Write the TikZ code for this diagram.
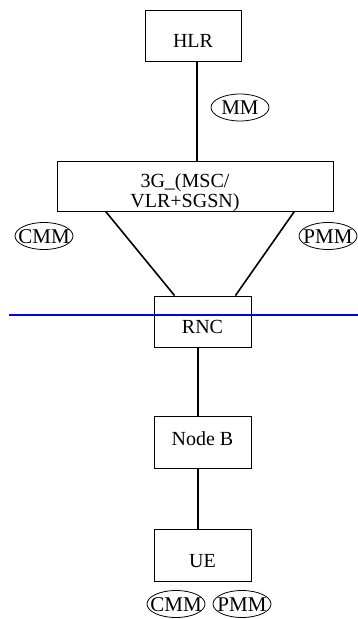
\documentclass[tikz,border=0pt]{standalone}
\usepackage{fontspec}
\setmainfont{Liberation Serif}

\begin{document}
\begin{tikzpicture}[x=1pt, y=-1pt,
    font=\fontsize{20pt}{20.5pt}\selectfont,
    box/.style={draw, line width=0.8pt, inner sep=0pt, minimum width=97pt, minimum height=51pt, text height=24pt, text depth=0pt},
    link/.style={line width=1.6pt},
    tag/.style={inner sep=0pt, text height=14pt, text depth=0pt, font=\fontsize{21pt}{22pt}\selectfont}]

    % constants
    \def\rx{29}
    \def\ry{13.5}

    \useasboundingbox (0,0) rectangle (358,619);

    % core network
    \node[box, minimum width=96pt] (hlr) at (193,35.5) {HLR};
    \node[box, minimum width=276pt, minimum height=50pt,
          label={[align=center, xshift=-10pt, yshift=-6.75pt]center:3G\_(MSC/\\VLR+SGSN)}] (msc) at (195,186) {};

    % radio network
    \node[box] (rnc) at (202.5,321.5) {RNC};
    \node[box, minimum height=52pt, text height=7pt] (nodeb) at (202.5,442) {Node B};
    \node[box, minimum height=52pt] (ue) at (202.5,555) {UE};

    % links
    \draw[link] ([xshift=4pt]hlr.south) -- ([xshift=4pt]hlr.south |- msc.north);
    \draw[link] ([xshift=49pt]msc.south west) -- ([xshift=21pt]rnc.north west);
    \draw[link] ([xshift=-39pt]msc.south east) -- ([xshift=-16pt]rnc.north east);
    \draw[link] ([xshift=-4.5pt]rnc.south) -- ([xshift=-4.5pt]rnc.south |- nodeb.north);
    \draw[link] ([xshift=-4.5pt]nodeb.south) -- ([xshift=-4.5pt]nodeb.south |- ue.north);

    % mobility management
    \node[tag] (mm) at (240,107.5) {MM};
    \node[tag] (cmmcore) at (44,236) {CMM};
    \node[tag] (pmmcore) at (328,236) {PMM};
    \node[tag] (cmmue) at (176,604) {CMM};
    \node[tag] (pmmue) at (242,604) {PMM};
    \foreach \t in {mm,cmmcore,pmmcore,cmmue,pmmue}
        \draw[line width=0.8pt] (\t) ellipse [x radius=\rx, y radius=\ry];

    % boundary
    \draw[blue, line width=1.2pt] (9,315) -- (358,315);

\end{tikzpicture}
\end{document}
